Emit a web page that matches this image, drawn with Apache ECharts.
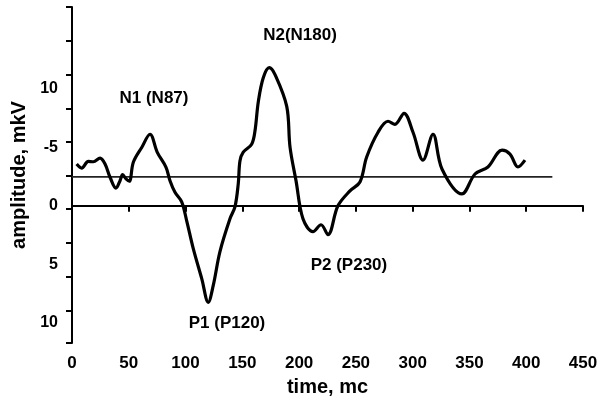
<!DOCTYPE html>
<html>
<head>
<meta charset="utf-8">
<script src="https://cdn.jsdelivr.net/npm/echarts@6/dist/echarts.min.js"></script>
<style>html,body{margin:0;padding:0;background:#fff}#c{width:616px;height:402px}</style>
</head>
<body>
<div id="c"></div>
<script>
// time (mc) and amplitude (mkV, negative up)
var times = [4.1, 8.5, 14.4, 18.8, 24.7, 29.1, 33.5, 38.7, 42.3, 44.6, 47.6, 50.5, 54.0, 61.4, 68.7, 75.1, 82.8, 86.3, 90.7, 96.6,
  101.0, 106.8, 114.2, 120.0, 124.4, 130.3, 139.1, 143.5, 146.4, 147.9, 150.8, 158.2, 161.1, 164.1, 168.5, 173.7, 178.8, 189.1, 192.0, 197.3,
  203.4, 212.2, 219.3, 225.4, 234.2, 244.8, 253.6, 259.5, 269.5, 278.3, 284.4, 292.4, 300.3, 309.1, 317.9, 325.8, 343.4, 354.9, 366.3, 378.7,
  385.7, 392.7, 398.9];
var amplitude = [-3.57, -3.23, -3.80, -3.77, -4.08, -3.57, -2.44, -1.51, -2.15, -2.66, -2.30, -2.10, -3.72, -4.99, -6.12, -4.57, -3.29, -2.15, -1.16, -0.34,
  1.28, 3.66, 6.21, 8.25, 6.80, 3.91, 1.11, 0.09, -1.87, -3.83, -4.59, -5.27, -6.38, -8.93, -10.97, -11.82, -11.22, -8.50, -5.02, -2.13,
  1.11, 2.21, 1.62, 2.47, 0.00, -1.28, -2.04, -4.17, -6.29, -7.23, -6.97, -7.91, -6.29, -3.91, -6.12, -3.15, -1.02, -2.72, -3.32, -4.76,
  -4.42, -3.32, -3.91];
var baselineTimes = [0, 423];
var baselineValue = -2.47;
var xTickValues = [0, 50, 100, 150, 200, 250, 300, 350, 400, 450];
var yLabelValues = [-10, -5, 0, 5, 10];
var yLabelTexts = ['10', '-5', '0', '5', '10'];
var yTickValues = [-17.0, -14.12, -11.22, -8.33, -5.44, -2.55, 0.26, 3.15, 6.04, 8.93, 11.73];
var peakNames = ['N1 (N87)', 'N2(N180)', 'P1 (P120)', 'P2 (P230)'];
var peakLabelPos = [[72.2, -9.18], [200.8, -14.54], [136.5, 10.03], [243.9, 5.10]];

var chart = echarts.init(document.getElementById('c'));
var font = 'Liberation Sans, Arial, sans-serif';
chart.setOption({
  animation: false,
  grid: {left: 72, right: 33, top: 7, bottom: 57, containLabel: false},
  xAxis: {
    type: 'value', min: 0, max: 450, interval: 50,
    name: 'time, mc', nameLocation: 'middle', nameGap: 34,
    nameTextStyle: {fontFamily: font, fontWeight: 'bold', fontSize: 20, color: '#000'},
    axisLine: {show: true, lineStyle: {color: '#000', width: 2}},
    axisTick: {show: true, length: 6, lineStyle: {color: '#000', width: 2}},
    axisLabel: {fontFamily: font, fontWeight: 'bold', fontSize: 17, color: '#000', margin: 12,
      customValues: xTickValues},
    splitLine: {show: false}
  },
  yAxis: {
    type: 'value', inverse: true, min: -17.0, max: 11.73,
    name: 'amplitude, mkV', nameLocation: 'middle', nameGap: 37, nameRotate: 90,
    nameTextStyle: {fontFamily: font, fontWeight: 'bold', fontSize: 20, color: '#000'},
    axisLine: {show: true, lineStyle: {color: '#000', width: 2}},
    axisTick: {show: true, length: 6, lineStyle: {color: '#000', width: 2}, customValues: yTickValues},
    axisLabel: {fontFamily: font, fontWeight: 'bold', fontSize: 16, color: '#000', margin: 14,
      customValues: yLabelValues,
      formatter: function (v) { var i = yLabelValues.indexOf(v); return i >= 0 ? yLabelTexts[i] : ''; }},
    splitLine: {show: false}
  },
  series: [
    {
      type: 'line', silent: true, symbol: 'none',
      data: baselineTimes.map(function (t) { return [t, baselineValue]; }),
      lineStyle: {color: '#222', width: 1.8}
    },
    {
      type: 'line', silent: true, symbol: 'none', smooth: 0.35,
      data: times.map(function (t, i) { return [t, amplitude[i]]; }),
      lineStyle: {color: '#000', width: 3.2}
    },
    {
      type: 'scatter', silent: true, symbolSize: 1, itemStyle: {color: 'rgba(0,0,0,0)'},
      data: peakLabelPos.map(function (p, i) { return {value: p, name: peakNames[i]}; }),
      label: {show: true, position: 'inside', formatter: '{b}', textBorderWidth: 0,
        fontFamily: font, fontWeight: 'bold', fontSize: 17, color: '#000', opacity: 1}
    }
  ]
});
</script>
</body>
</html>
